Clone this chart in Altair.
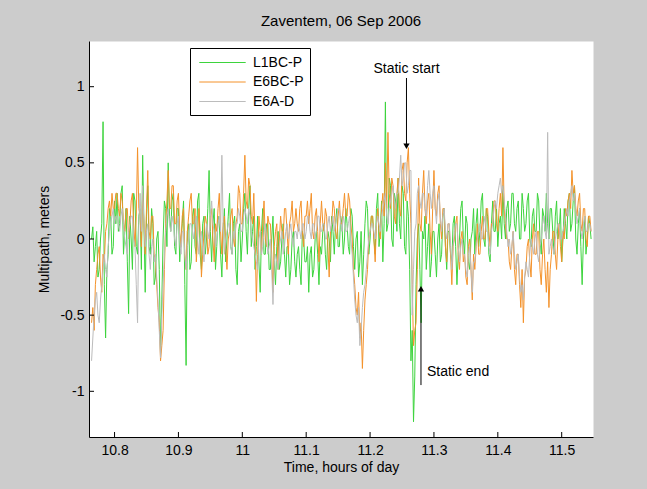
import altair as alt
import pandas as pd

# Sampling grid (hours of day)
t0 = 10.764
dt = 0.002

# Multipath estimates, meters (one row = 0.04 h)
l1bc_p = [
    0.0, 0.08, -0.15, -0.05, 0.05, -0.25, -0.2, 0.0, 0.1, 0.77, -0.3, -0.65, -0.2, -0.1, 0.2, 0.15, -0.1, -0.05, 0.25, 0.1,
    0.3, 0.05, 0.1, 0.3, 0.35, -0.1, 0.05, 0.2, -0.15, -0.49, 0.15, 0.0, -0.2, 0.3, 0.25, -0.05, -0.1, 0.15, 0.2, -0.2,
    0.55, 0.1, -0.35, 0.15, 0.35, -0.05, -0.1, 0.2, 0.1, -0.3, -0.25, 0.0, 0.05, -0.2, -0.75, -0.4, 0.0, 0.25, 0.2, -0.05,
    0.5, 0.15, 0.05, 0.25, 0.3, -0.05, -0.1, 0.2, 0.2, -0.15, 0.0, 0.1, 0.25, -0.3, -0.83, 0.05, 0.1, -0.2, -0.15, 0.15,
    0.2, -0.05, -0.1, 0.25, 0.3, -0.1, -0.2, 0.1, 0.15, -0.1, 0.0, 0.2, 0.45, 0.05, -0.15, 0.1, 0.2, -0.2, -0.05, 0.15,
    0.1, -0.1, -0.25, 0.05, 0.2, -0.15, 0.0, 0.15, 0.3, -0.05, -0.1, 0.1, 0.15, -0.2, -0.3, 0.05, 0.1, -0.15, 0.0, 0.2,
    0.3, 0.05, -0.1, 0.2, 0.35, -0.05, 0.05, 0.15, -0.2, -0.05, 0.15, -0.15, -0.35, 0.05, 0.2, -0.1, -0.1, 0.1, 0.1, -0.2,
    -0.2, 0.0, 0.15, -0.15, -0.3, -0.05, 0.05, -0.2, -0.15, 0.0, 0.1, -0.1, -0.25, -0.05, -0.05, -0.3, -0.2, 0.0, 0.05, -0.15,
    -0.25, -0.1, -0.05, -0.2, -0.3, 0.05, 0.0, -0.15, -0.15, -0.05, -0.35, -0.1, -0.05, -0.25, -0.2, 0.0, 0.05, -0.1, -0.3, -0.05,
    -0.1, 0.05, 0.1, -0.1, -0.2, 0.05, 0.0, -0.15, 0.15, 0.05, -0.1, 0.1, 0.2, -0.05, -0.05, 0.15, 0.1, -0.1, 0.0, 0.2,
    0.1, -0.05, -0.1, 0.2, 0.15, -0.05, -0.2, 0.0, 0.05, -0.25, -0.15, 0.05, -0.3, -0.1, 0.1, 0.25, 0.2, -0.1, 0.0, 0.15,
    0.15, 0.0, -0.1, 0.2, 0.3, -0.05, 0.05, 0.25, -0.15, 0.1, 0.9, 0.05, 0.1, 0.4, 0.35, 0.0, -0.05, 0.3, 0.25, 0.05,
    0.4, 0.1, 0.0, 0.35, 0.3, -0.05, -0.1, 0.25, 0.15, -0.2, -0.8, -0.6, -1.2, -0.9, -0.3, 0.0, 0.1, -0.2, -0.55, 0.05,
    0.0, 0.15, -0.2, -0.05, 0.1, -0.25, -0.15, 0.05, 0.05, -0.1, -0.25, 0.0, 0.1, -0.15, -0.1, 0.15, 0.2, -0.05, -0.2, 0.05,
    0.05, -0.1, -0.15, 0.1, 0.15, -0.05, -0.3, -0.1, 0.0, 0.2, 0.25, 0.0, -0.1, 0.15, 0.1, -0.15, -0.2, 0.0, 0.05, 0.2,
    -0.1, 0.1, 0.2, -0.05, 0.05, 0.25, 0.3, 0.0, -0.05, 0.2, 0.15, -0.1, -0.15, 0.1, 0.25, 0.05, 0.05, 0.2, -0.05, 0.1,
    0.15, 0.0, 0.35, 0.1, 0.0, 0.2, 0.25, 0.05, 0.1, 0.3, 0.3, 0.1, 0.05, 0.2, 0.25, 0.0, 0.0, 0.3, 0.2, 0.05,
    0.1, 0.25, 0.3, 0.0, -0.05, 0.15, 0.2, 0.05, 0.05, 0.3, 0.25, 0.0, -0.1, 0.2, 0.15, 0.05, 0.3, 0.1, 0.0, 0.2,
    0.2, 0.05, -0.1, 0.15, 0.25, 0.0, 0.05, 0.2, -0.15, 0.0, 0.2, 0.1, 0.0, 0.25, 0.3, 0.05, 0.1, 0.25, 0.35, 0.0,
    -0.1, 0.1, 0.2, -0.05, -0.3, 0.0, 0.15, -0.1, 0.0, 0.15, 0.1, 0.0,
]

e6bc_p = [
    -0.55, -0.45, -0.6, -0.3, -0.2, -0.1, -0.05, -0.25, -0.35, -0.1, -0.15, 0.05, 0.1, 0.2, 0.25, 0.15, 0.3, 0.2, 0.2, 0.3,
    0.3, 0.2, 0.15, 0.3, 0.25, 0.1, 0.05, 0.2, 0.2, 0.0, 0.1, 0.25, 0.3, 0.1, -0.05, 0.15, 0.6, 0.2, 0.15, -0.05,
    0.3, 0.1, -0.1, 0.2, 0.45, 0.05, 0.0, 0.15, 0.15, -0.1, -0.15, -0.3, -0.45, -0.55, -0.8, -0.7, -0.6, -0.2, 0.1, 0.25,
    0.45, 0.2, 0.2, 0.35, 0.35, 0.1, 0.1, 0.25, 0.3, 0.05, -0.05, 0.15, 0.2, -0.1, -0.2, 0.05, 0.15, 0.25, 0.3, 0.1,
    0.1, 0.2, -0.15, 0.0, 0.2, 0.05, -0.25, -0.1, 0.05, 0.15, 0.1, -0.1, -0.05, 0.15, 0.2, 0.0, -0.15, 0.1, 0.05, 0.2,
    0.3, 0.05, -0.1, 0.1, 0.15, -0.05, -0.2, 0.0, 0.05, 0.15, 0.2, 0.0, -0.05, 0.1, 0.15, 0.35, 0.3, 0.1, 0.1, 0.3,
    0.55, 0.25, 0.2, 0.4, 0.35, 0.15, 0.1, 0.3, 0.0, -0.41, -0.1, 0.15, 0.05, -0.1, 0.1, 0.25, 0.0, -0.05, 0.15, 0.1,
    0.1, -0.1, -0.35, -0.05, 0.05, 0.1, -0.2, 0.0, 0.15, 0.05, 0.0, 0.2, 0.2, 0.05, -0.1, 0.1, 0.15, 0.25, 0.05, 0.1,
    0.2, 0.1, 0.05, 0.2, 0.25, 0.05, -0.05, 0.15, 0.15, 0.25, 0.1, 0.2, 0.3, 0.05, 0.0, 0.15, 0.2, 0.05, -0.15, 0.1,
    0.25, 0.1, 0.05, 0.2, 0.15, -0.05, -0.25, 0.05, 0.1, 0.25, 0.2, 0.05, 0.0, 0.15, 0.25, 0.1, 0.1, 0.2, 0.3, 0.15,
    0.15, 0.3, 0.25, 0.1, 0.0, -0.2, -0.3, -0.45, -0.5, -0.35, -0.65, -0.55, -0.85, -0.6, -0.4, -0.3, -0.2, 0.0, 0.05, 0.15,
    0.15, 0.0, -0.15, 0.1, 0.2, 0.05, 0.0, 0.2, 0.3, 0.15, 0.5, 0.2, 0.7, 0.3, 0.2, 0.4, 0.35, 0.15, 0.1, 0.3,
    0.4, 0.2, 0.15, 0.45, 0.5, 0.3, 0.25, 0.5, 0.6, 0.3, 0.1, -0.3, -0.7, -0.6, -0.55, -0.2, 0.4, 0.1, 0.05, 0.3,
    0.45, 0.2, 0.1, 0.25, 0.3, 0.05, -0.1, 0.2, 0.45, 0.2, 0.15, 0.3, 0.35, 0.1, 0.0, 0.2, 0.2, -0.05, -0.15, 0.1,
    0.1, -0.1, -0.3, -0.05, 0.0, 0.1, 0.15, -0.1, -0.2, 0.0, 0.05, -0.15, -0.1, -0.25, -0.3, -0.05, 0.0, -0.2, -0.4, -0.1,
    -0.2, -0.05, 0.1, -0.1, -0.1, 0.05, 0.15, 0.0, 0.0, 0.2, 0.2, 0.05, -0.05, 0.1, 0.1, 0.25, 0.25, 0.1, 0.05, 0.2,
    0.3, 0.15, 0.6, 0.2, 0.1, 0.0, 0.0, -0.15, -0.2, -0.05, 0.05, -0.2, -0.3, -0.1, -0.1, -0.3, -0.45, -0.2, -0.55, -0.25,
    -0.2, -0.05, 0.0, -0.15, -0.25, 0.0, 0.1, -0.1, -0.1, 0.05, 0.05, -0.2, -0.3, -0.1, 0.0, -0.2, -0.35, -0.15, -0.45, -0.2,
    -0.1, 0.05, 0.05, -0.1, -0.2, 0.0, 0.1, -0.05, -0.15, 0.05, 0.0, 0.2, 0.15, 0.25, 0.3, 0.2, 0.45, 0.3, 0.35, 0.2,
    0.15, 0.25, 0.3, 0.1, 0.05, 0.2, 0.2, 0.0, -0.05, 0.15, 0.15, 0.05,
]

e6a_d = [
    -0.8, -0.65, -0.5, -0.4, -0.35, -0.5, -0.55, -0.4, -0.3, -0.2, -0.1, -0.2, -0.25, -0.05, 0.05, 0.1, 0.15, 0.2, 0.1, 0.15,
    0.15, 0.1, 0.05, 0.15, 0.2, 0.1, 0.0, -0.05, -0.1, 0.05, 0.1, 0.15, 0.15, 0.0, -0.05, -0.3, -0.55, 0.1, 0.3, 0.05,
    0.35, 0.1, -0.05, 0.05, 0.1, -0.1, -0.2, -0.05, 0.0, -0.15, -0.1, -0.25, -0.4, -0.6, -0.78, -0.5, -0.3, -0.1, 0.05, 0.15,
    0.2, 0.1, 0.05, 0.15, 0.1, 0.0, -0.05, 0.1, 0.15, 0.0, -0.1, 0.05, 0.05, -0.1, -0.2, -0.05, 0.0, 0.1, 0.1, 0.05,
    0.0, 0.1, 0.15, 0.0, -0.1, 0.0, 0.05, -0.05, -0.15, 0.0, 0.1, 0.05, 0.0, 0.15, 0.25, 0.1, 0.05, -0.05, 0.0, 0.1,
    0.15, 0.05, 0.55, 0.1, -0.1, 0.0, 0.05, 0.1, 0.1, -0.05, -0.1, 0.05, 0.0, 0.1, 0.1, 0.2, 0.15, 0.05, 0.05, 0.15,
    0.2, 0.15, 0.1, 0.2, 0.15, 0.05, 0.0, -0.05, -0.1, -0.15, -0.2, 0.0, 0.05, -0.1, -0.05, 0.05, 0.1, 0.0, -0.1, -0.05,
    0.0, -0.2, -0.43, -0.15, -0.1, -0.15, -0.2, -0.05, 0.0, 0.05, -0.1, -0.05, 0.05, 0.1, 0.0, 0.05, 0.1, 0.0, -0.05, 0.05,
    0.05, 0.0, 0.1, 0.05, 0.0, 0.1, 0.1, 0.0, 0.05, 0.15, 0.15, 0.05, 0.0, 0.1, 0.1, 0.0, 0.05, 0.15, 0.15, 0.05,
    0.05, 0.1, 0.1, 0.0, 0.0, 0.1, 0.15, 0.05, 0.1, 0.15, 0.05, 0.1, 0.15, 0.2, 0.2, 0.1, 0.05, 0.15, 0.1, 0.05,
    0.05, 0.1, 0.15, 0.0, -0.1, -0.25, -0.4, -0.5, -0.55, -0.45, -0.7, -0.6, -0.45, -0.35, -0.3, -0.2, -0.1, 0.0, 0.05, 0.1,
    0.1, 0.05, 0.0, 0.1, 0.15, 0.1, 0.05, 0.15, 0.2, 0.25, 0.3, 0.15, 0.1, 0.2, 0.25, 0.3, 0.35, 0.25, 0.2, 0.3,
    0.3, 0.4, 0.55, 0.35, 0.4, 0.5, 0.5, 0.3, 0.35, 0.45, 0.45, -0.5, -0.2, 0.05, 0.1, 0.3, 0.35, 0.25, 0.2, 0.3,
    0.3, 0.2, 0.15, 0.35, 0.45, 0.3, 0.2, 0.3, 0.35, 0.2, 0.1, 0.25, 0.3, 0.15, 0.05, 0.15, 0.2, 0.05, 0.0, 0.1,
    0.1, -0.05, -0.2, -0.05, 0.05, 0.1, 0.1, -0.05, -0.15, -0.05, 0.0, -0.1, -0.1, -0.2, -0.25, -0.1, -0.05, -0.2, -0.35, -0.15,
    -0.15, -0.05, 0.0, 0.05, 0.1, 0.0, 0.0, 0.1, 0.15, 0.05, 0.05, -0.05, -0.1, 0.05, 0.1, 0.2, 0.25, 0.2, 0.3, 0.35,
    0.4, 0.3, 0.35, 0.25, 0.15, 0.05, -0.05, 0.0, -0.1, -0.05, 0.05, -0.1, -0.2, -0.15, -0.1, -0.25, -0.35, -0.3, -0.4, -0.25,
    -0.15, -0.2, -0.25, -0.1, 0.0, -0.05, -0.1, 0.0, 0.05, -0.1, -0.15, -0.05, 0.0, 0.1, 0.15, 0.05, 0.0, 0.7, -0.1, -0.05,
    0.0, -0.05, -0.1, 0.0, 0.05, 0.1, 0.1, 0.0, 0.0, 0.05, 0.1, 0.15, 0.2, 0.15, 0.25, 0.3, 0.35, 0.25, 0.3, 0.2,
    0.1, 0.15, 0.2, 0.05, 0.0, 0.1, 0.15, 0.05, 0.05, 0.1, 0.1, 0.05,
]

series_names = ["L1BC-P", "E6BC-P", "E6A-D"]
series_colors = ["#3dd43d", "#f4922a", "#bcbcbc"]
series_values = [l1bc_p, e6bc_p, e6a_d]

x_ticks = [10.8, 10.9, 11.0, 11.1, 11.2, 11.3, 11.4, 11.5]
y_ticks = [-1, -0.5, 0, 0.5, 1]
x_domain = [10.76, 11.549]
y_domain = [-1.3, 1.3]

# Annotation arrows: label, label position, arrow tail and head
ann_label = ["Static start", "Static end"]
ann_label_t = [11.257, 11.289]
ann_label_y = [1.115, -0.874]
ann_align = ["center", "left"]
ann_t = [11.257, 11.2797]
ann_tail_y = [1.057, -0.959]
ann_head_y = [0.609, -0.326]

FONT = "Liberation Sans"

rows = []
for name, vals in zip(series_names, series_values):
    for i, v in enumerate(vals):
        rows.append({"series": name, "t": round(t0 + dt * i, 4), "m": v})
df = pd.DataFrame(rows)

ann = pd.DataFrame({
    "label": ann_label, "lt": ann_label_t, "ly": ann_label_y, "align": ann_align,
    "t": ann_t, "y0": ann_tail_y, "y1": ann_head_y,
})

W, H = 504, 396

x_scale = alt.Scale(domain=x_domain, nice=False, zero=False)
y_scale = alt.Scale(domain=y_domain, nice=False, zero=False)

x_axis = alt.Axis(values=x_ticks, labelExpr="'' + datum.value", grid=False,
                  tickSize=0, labelPadding=6, title="Time, hours of day",
                  titlePadding=3)
y_axis = alt.Axis(values=y_ticks, labelExpr="'' + datum.value", grid=False,
                  tickSize=0, labelPadding=5, title="Multipath, meters",
                  titlePadding=8)

# Line-sample legend: a wide horizontal stroke per entry
color = alt.Color(
    "series:N",
    scale=alt.Scale(domain=series_names, range=series_colors),
    legend=alt.Legend(
        title=None, orient="none", legendX=101, legendY=7,
        symbolType="M-2.9,0H2.9", symbolSize=256, symbolStrokeWidth=1,
        symbolOpacity=1,
        labelFont=FONT, labelFontSize=14, labelColor="#000000",
        symbolOffset=18, labelOffset=22,
        strokeColor="#000000", fillColor="#ffffff",
        padding=6, rowPadding=3.5,
    ),
)

layers = []
for name in series_names:
    layers.append(
        alt.Chart(df).transform_filter(alt.datum.series == name)
        .mark_line(strokeWidth=1, clip=True)
        .encode(
            x=alt.X("t:Q", scale=x_scale, axis=x_axis),
            y=alt.Y("m:Q", scale=y_scale, axis=y_axis),
            color=color,
        )
    )

# Inward-pointing ticks on the two axes
xt = pd.DataFrame({"v": x_ticks})
yt = pd.DataFrame({"v": y_ticks})
x_tick_marks = alt.Chart(xt).mark_rule(color="#000000", strokeWidth=1).encode(
    x=alt.X("v:Q", scale=x_scale), y=alt.value(H), y2=alt.value(H - 5))
y_tick_marks = alt.Chart(yt).mark_rule(color="#000000", strokeWidth=1).encode(
    y=alt.Y("v:Q", scale=y_scale), x=alt.value(0), x2=alt.value(5))

shafts = alt.Chart(ann).mark_rule(color="#000000", strokeWidth=1).encode(
    x=alt.X("t:Q", scale=x_scale), y=alt.Y("y0:Q", scale=y_scale), y2="y1:Q")
heads = alt.Chart(ann).mark_point(filled=True, color="#000000", size=40, opacity=1).encode(
    x=alt.X("t:Q", scale=x_scale), y=alt.Y("y1:Q", scale=y_scale),
    shape=alt.Shape("label:N", scale=alt.Scale(domain=ann_label,
                                               range=["triangle-down", "triangle-up"]),
                    legend=None))
label_layers = []
for lab, al in zip(ann_label, ann_align):
    label_layers.append(
        alt.Chart(ann).transform_filter(alt.datum.label == lab)
        .mark_text(font=FONT, fontSize=14, color="#000000", align=al, baseline="middle")
        .encode(x=alt.X("lt:Q", scale=x_scale), y=alt.Y("ly:Q", scale=y_scale),
                text="label:N")
    )

chart = alt.layer(*layers, x_tick_marks, y_tick_marks, shafts, heads, *label_layers).properties(
    width=W, height=H,
    title=alt.TitleParams("Zaventem, 06 Sep 2006", font=FONT, fontSize=15,
                          fontWeight="normal", color="#000000", offset=12),
    background="#cccccc",
    padding={"left": 89, "top": 41, "right": 54, "bottom": 52},
    autosize=alt.AutoSizeParams(type="none"),
).configure_view(fill="#ffffff", stroke="transparent").configure_axis(
    domainColor="#000000", domainWidth=1, labelFont=FONT, labelFontSize=14,
    labelColor="#000000", titleFont=FONT, titleFontSize=14,
    titleFontWeight="normal", titleColor="#000000",
)

chart.save("out.html", embed_options={"renderer": "svg", "actions": False})
